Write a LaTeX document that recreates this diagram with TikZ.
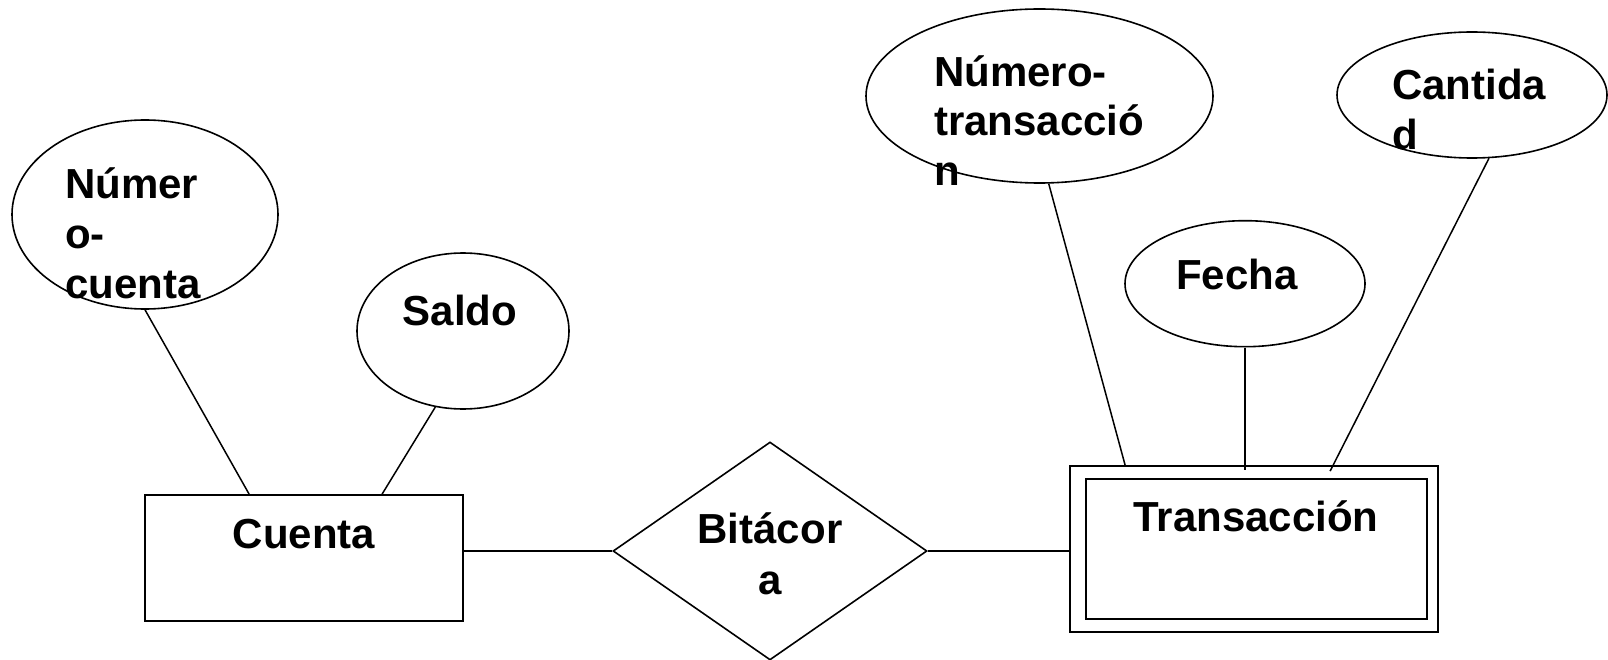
\documentclass[tikz,border=0pt]{standalone}
\usepackage{fontspec}
\setmainfont{Liberation Sans}
\usetikzlibrary{shapes.geometric,calc}
\begin{document}
\begin{tikzpicture}[x=1pt,y=-1pt,
  attr/.style={draw,ellipse,inner sep=0pt,line width=1.6pt},
  ent/.style={draw,rectangle,inner sep=0pt,line width=1.8pt},
  rel/.style={draw,diamond,inner sep=0pt,line width=1.6pt},
  lbl/.style={inner sep=0pt,font=\fontsize{42}{50}\selectfont\bfseries},
  conn/.style={line width=1.5pt}]
\useasboundingbox (0,0) rectangle (1608,660);

% attributes
\node[attr,minimum width=266pt,minimum height=189pt] (nc) at (145,214.5) {};
\node[attr,minimum width=212pt,minimum height=156pt] (sal) at (463,331) {};
\node[attr,minimum width=347pt,minimum height=174pt] (nt) at (1039.5,96) {};
\node[attr,minimum width=240pt,minimum height=126pt] (fe) at (1245,283.7) {};
\node[attr,minimum width=270pt,minimum height=126pt] (ca) at (1472,95) {};

% entities
\node[ent,minimum width=318pt,minimum height=126pt] (cu) at (304,558) {};
\node[ent,minimum width=368pt,minimum height=166pt] (tr) at (1254,549) {};
\node[ent,minimum width=341pt,minimum height=140pt] (tri) at (1256.5,549) {};

% relationship
\node[rel,minimum width=314pt,minimum height=218pt] (bit) at (770,551) {};

% labels
\node[lbl,anchor=base west] (nc1) at (65,198.3) {Númer};
\node[lbl,anchor=base west] (nc2) at (65,248.3) {o-};
\node[lbl,anchor=base west] (nc3) at (65,298.3) {cuenta};
\node[lbl,anchor=base] (salt) at (460,325) {Saldo};
\node[lbl,anchor=base] (cut) at (304,548) {Cuenta};
\node[lbl,anchor=base] (bt1) at (770,543) {Bitácor};
\node[lbl,anchor=base] (bt2) at (770,594) {a};
\node[lbl,anchor=base] (trt) at (1256,531) {Transacción};
\node[lbl,anchor=base west] (nt1) at (934,86.7) {Número-};
\node[lbl,anchor=base west] (nt2) at (934,136) {transacció};
\node[lbl,anchor=base west] (nt3) at (934,186) {n};
\node[lbl,anchor=base] (fet) at (1237,289) {Fecha};
\node[lbl,anchor=base west] (ca1) at (1392,99.3) {Cantida};
\node[lbl,anchor=base west] (ca2) at (1392,149.5) {d};

% connectors
\draw[conn] (nc.south) -- ($(cu.north west)+(105,0)$);
\draw[conn] (sal.-110) -- ($(cu.north west)+(238,0)$);
\draw[conn] (cu.east |- bit.west) -- (bit.west);
\draw[conn] (bit.east) -- (bit.east -| tr.west);
\draw[conn] (nt.-84) -- ($(tr.north west)+(56,0)$);
\draw[conn] (fe.south) -- ($(fe.south |- tr.north)+(0,5)$);
\draw[conn] (ca.-75) -- ($(tr.north west)+(261,6)$);
\end{tikzpicture}
\end{document}
